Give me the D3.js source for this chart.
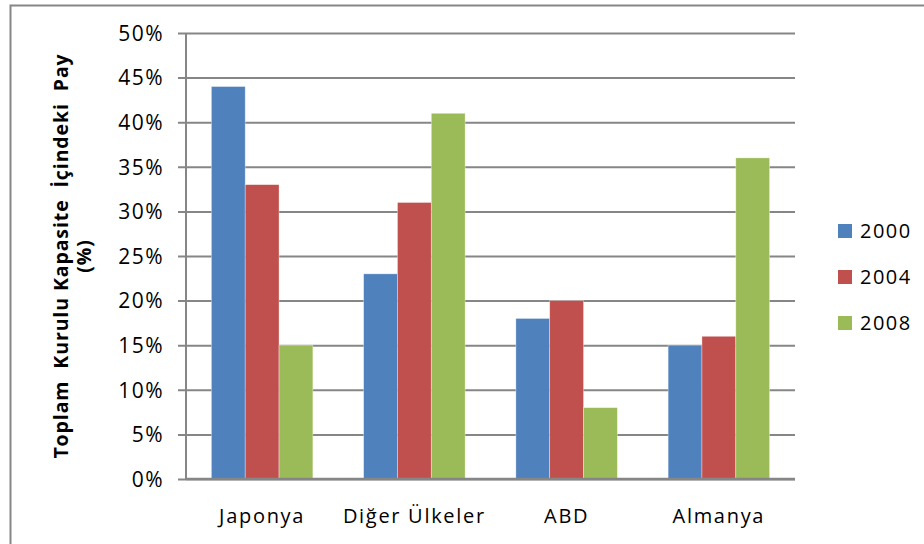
<!DOCTYPE html>
<html>
<head>
<meta charset="utf-8">
<script src="https://cdn.jsdelivr.net/npm/d3@7"></script>
<style>
  body { margin: 0; background: #fff; }
  text { font-family: "Open Sans", "Liberation Sans", sans-serif; fill: #000; }
</style>
</head>
<body>
<div id="chart"></div>
<script>
const categories = ["Japonya", "Diğer Ülkeler", "ABD", "Almanya"];
const seriesNames = ["2000", "2004", "2008"];
const values2000 = [44, 23, 18, 15];
const values2004 = [33, 31, 20, 16];
const values2008 = [15, 41, 8, 36];
const yTicks = [0, 5, 10, 15, 20, 25, 30, 35, 40, 45, 50];
const colors = ["#4F81BD", "#C0504D", "#9BBB59"];

const width = 924, height = 544;
const margin = {top: 33, right: 129, bottom: 65, left: 186};

const svg = d3.select("#chart").append("svg")
  .attr("width", width)
  .attr("height", height);

// outer chart border
svg.append("rect")
  .attr("x", 10.5).attr("y", 5.5)
  .attr("width", 930).attr("height", 560)
  .attr("fill", "none")
  .attr("stroke", "#868686")
  .attr("stroke-width", 2);

const x = d3.scaleBand()
  .domain(categories)
  .range([margin.left, width - margin.right])
  .paddingInner(1.5 / 4.5)
  .paddingOuter(0.75 / 4.5);

const x1 = d3.scaleBand()
  .domain(seriesNames)
  .range([0, x.bandwidth()]);

const y = d3.scaleLinear()
  .domain([0, 50])
  .range([height - margin.bottom, margin.top]);

// gridlines + y axis
const yAxis = svg.append("g")
  .attr("transform", `translate(${margin.left},0)`)
  .call(d3.axisLeft(y)
    .tickValues(yTicks)
    .tickSize(8)
    .tickFormat(d => d + "%"));
yAxis.select(".domain").remove();
yAxis.selectAll(".tick line")
  .attr("stroke", "#868686").attr("stroke-width", 2)
  .attr("x1", -8)
  .attr("x2", width - margin.right - margin.left);
yAxis.selectAll(".tick text")
  .attr("x", -22)
  .attr("dy", "0.35em")
  .style("font-size", "21px")
  .style("letter-spacing", "1.5px")
  .style("font-family", "'Open Sans', sans-serif");

svg.append("line")
  .attr("x1", margin.left).attr("x2", margin.left)
  .attr("y1", margin.top).attr("y2", y(0))
  .attr("stroke", "#868686").attr("stroke-width", 2);

// bars
const rows = categories.map((c, i) => ({
  cat: c,
  vals: [values2000[i], values2004[i], values2008[i]]
}));

svg.append("g").selectAll("g")
  .data(rows)
  .join("g")
  .attr("transform", d => `translate(${x(d.cat)},0)`)
  .selectAll("rect")
  .data(d => d.vals.map((v, j) => ({s: seriesNames[j], v, c: colors[j]})))
  .join("rect")
  .attr("x", d => x1(d.s))
  .attr("y", d => y(d.v))
  .attr("width", x1.bandwidth())
  .attr("height", d => y(0) - y(d.v))
  .attr("fill", d => d.c)
  .attr("stroke", "rgba(255,255,255,0.5)")
  .attr("stroke-width", 0.7);

// x axis
svg.append("line")
  .attr("x1", margin.left).attr("x2", width - margin.right)
  .attr("y1", y(0)).attr("y2", y(0))
  .attr("stroke", "#868686").attr("stroke-width", 2.5);

svg.append("g").selectAll("text")
  .data(categories)
  .join("text")
  .attr("x", d => x(d) + x.bandwidth() / 2)
  .attr("y", 523)
  .attr("text-anchor", "middle")
  .style("font-size", "20px")
  .style("letter-spacing", "1.7px")
  .text(d => d);

// y axis title
const title = svg.append("text")
  .attr("transform", `translate(68,${(margin.top + y(0)) / 2}) rotate(-90)`)
  .attr("text-anchor", "middle")
  .style("font-size", "19.5px")
  .style("font-weight", "bold")
  .style("white-space", "pre")
  .style("letter-spacing", "0.9px");
title.append("tspan").attr("x", 0).attr("dy", 0)
  .text("Toplam  Kurulu Kapasite  İçindeki  Pay");
title.append("tspan").attr("x", 0).attr("dy", 23).text("(%)");

// legend
const legend = svg.append("g").selectAll("g")
  .data(seriesNames)
  .join("g")
  .attr("transform", (d, i) => `translate(838,${224 + i * 46})`);
legend.append("rect")
  .attr("width", 14).attr("height", 14)
  .attr("fill", (d, i) => colors[i]);
legend.append("text")
  .attr("x", 22).attr("y", 7).attr("dy", "0.36em")
  .style("font-size", "20px")
  .style("letter-spacing", "1.5px")
  .text(d => d);
</script>
</body>
</html>
